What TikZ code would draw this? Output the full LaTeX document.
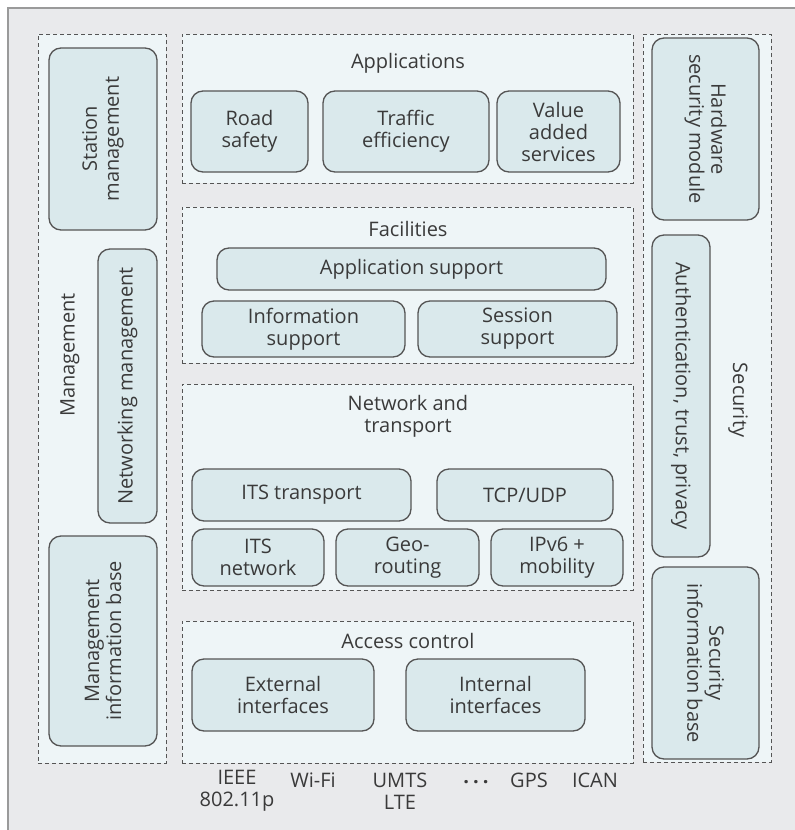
\documentclass[tikz,border=0pt]{standalone}
\usepackage{fontspec}
\setmainfont{Open Sans}
\definecolor{bggray}{HTML}{E9EAEC}
\definecolor{framegray}{HTML}{9A9A9A}
\definecolor{layerfill}{HTML}{EEF5F7}
\definecolor{boxfill}{HTML}{DAE9EC}
\definecolor{linegray}{HTML}{555555}
\definecolor{txt}{HTML}{3A3A3A}
\begin{document}
\begin{tikzpicture}[x=1pt,y=-1pt,
  every node/.style={text=txt,font=\fontsize{20}{22}\selectfont,align=center,inner sep=0pt},
  layer/.style={draw=linegray,line width=1pt,dash pattern=on 4pt off 3pt,fill=layerfill,rectangle},
  block/.style={draw=linegray,line width=1.3pt,fill=boxfill,rounded corners=12pt,rectangle},
  lbl/.style={}]
\useasboundingbox (0,0) rectangle (795,830);
\fill[white] (0,0) rectangle (795,830);
\fill[bggray] (8,8) rectangle (795,830);
\draw[framegray,line width=2pt] (8,830) -- (8,8) -- (795,8);
% layers
\node[layer,minimum width=128,minimum height=729] (mgmt) at (102,398.5) {};
\node[layer,minimum width=451,minimum height=149] (apps) at (407.5,108.5) {};
\node[layer,minimum width=451,minimum height=156] (fac) at (407.5,285) {};
\node[layer,minimum width=451,minimum height=206] (net) at (407.5,487) {};
\node[layer,minimum width=451,minimum height=142] (acc) at (407.5,692) {};
\node[layer,minimum width=128,minimum height=728] (sec) at (707,398) {};
% titles
\node[lbl] (tapps) at (408,63) {Applications};
\node[lbl] (tfac) at (408,229) {Facilities};
\node[lbl] (tnet) at (408,416) {Network and\\transport};
\node[lbl] (tacc) at (408,641) {Access control};
\node[lbl,rotate=90] (tmgmt) at (70,355) {Management};
\node[lbl,rotate=-90] (tsec) at (738,400) {Security};
% management blocks
\node[block,rotate=90,minimum width=182,minimum height=108] (station) at (103,139) {Station\\management};
\node[block,rotate=90,minimum width=274,minimum height=59] (netmgmt) at (127.5,386) {Networking management};
\node[block,rotate=90,minimum width=210,minimum height=108] (mib) at (103,641) {Management\\information base};
% applications
\node[block,minimum width=117,minimum height=81] (road) at (249.5,131.5) {Road\\safety};
\node[block,minimum width=166,minimum height=81] (traffic) at (406,131.5) {Traffic\\efficiency};
\node[block,minimum width=123,minimum height=81] (value) at (558.5,131.5) {Value\\added\\services};
% facilities
\node[block,minimum width=389,minimum height=42] (appsup) at (411.5,269) {Application support};
\node[block,minimum width=203,minimum height=56] (info) at (303.5,329) {Information\\support};
\node[block,minimum width=199,minimum height=56] (session) at (517.5,329) {Session\\support};
% network
\node[block,minimum width=219,minimum height=52] (itstr) at (301.5,495) {ITS transport};
\node[block,minimum width=176,minimum height=52] (tcp) at (525,495) {TCP/UDP};
\node[block,minimum width=132,minimum height=57] (itsnet) at (258,557.5) {ITS\\network};
\node[block,minimum width=143,minimum height=57] (geo) at (407.5,557.5) {Geo-\\routing};
\node[block,minimum width=132,minimum height=57] (ipv6) at (557,557.5) {IPv6 +\\mobility};
% access
\node[block,minimum width=182,minimum height=72] (ext) at (283,695) {External\\interfaces};
\node[block,minimum width=179,minimum height=72] (int) at (495.5,695) {Internal\\interfaces};
% security
\node[block,rotate=-90,minimum width=182,minimum height=107] (hsm) at (705.5,129) {Hardware\\security module};
\node[block,rotate=-90,minimum width=322,minimum height=58] (auth) at (681,396) {Authentication, trust, privacy};
\node[block,rotate=-90,minimum width=192,minimum height=107] (sib) at (705.5,663) {Security\\information base};
% bottom
\node[lbl] (ieee) at (237,791) {IEEE\\802.11p};
\node[lbl] (wifi) at (313,780) {Wi-Fi};
\node[lbl] (umts) at (400,791) {UMTS\\LTE};
\node[lbl] (dots) at (476,782) {\bfseries .\hspace{4pt}.\hspace{4pt}.};
\node[lbl] (gps) at (529,780) {GPS};
\node[lbl] (ican) at (595,780) {ICAN};
\end{tikzpicture}
\end{document}
